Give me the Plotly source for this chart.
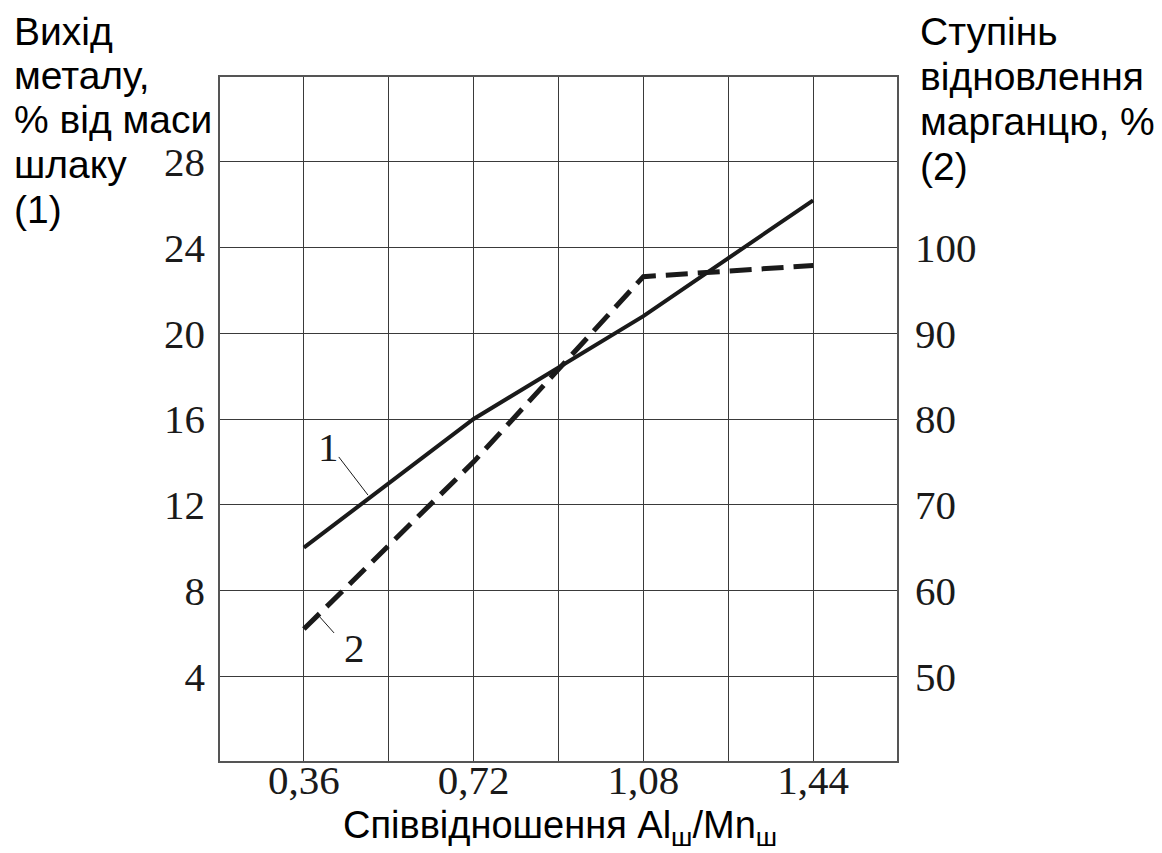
import plotly.graph_objects as go

# Data
x_ratio = [0.36, 0.72, 1.08, 1.44]
metal_yield = [10.0, 16.0, 20.8, 26.2]          # curve 1, left axis (%)
mn_recovery = [55.5, 75.0, 96.6, 97.9]          # curve 2, right axis (%)

x_ticks = [0.36, 0.72, 1.08, 1.44]
x_ticklabels = ["0,36", "0,72", "1,08", "1,44"]
x_minor_grid = [0.54, 0.90, 1.26]
y_left_ticks = [4, 8, 12, 16, 20, 24, 28]
y_right_ticks = [50, 60, 70, 80, 90, 100]

left_title = ["Вихід", "металу,", "% від маси", "шлаку", "(1)"]
right_title = ["Ступінь", "відновлення", "марганцю, %", "(2)"]
x_title = "Співвідношення Al<sub>ш</sub>/Mn<sub>ш</sub>"

INK = "#1a1a1a"
SERIF = "Liberation Serif"
SANS = "Liberation Sans"
GRID = "#3a3a3a"
PLOT_H = 686

fig = go.Figure()
fig.add_trace(go.Scatter(x=x_ratio, y=metal_yield, mode="lines",
                         line=dict(color=INK, width=4), yaxis="y", showlegend=False))
fig.add_trace(go.Scatter(x=x_ratio, y=mn_recovery, mode="lines",
                         line=dict(color=INK, width=5, dash="22px,10px"), yaxis="y2",
                         showlegend=False))

fig.update_layout(
    width=1162, height=853,
    margin=dict(l=219, r=264, t=76, b=91),
    paper_bgcolor="white", plot_bgcolor="white",
    xaxis=dict(range=[0.18, 1.62], tickvals=x_ticks, ticktext=x_ticklabels,
               anchor="free", position=10 / PLOT_H,
               showgrid=True, gridcolor=GRID, gridwidth=1,
               minor=dict(tickvals=x_minor_grid, showgrid=True, gridcolor=GRID, gridwidth=1),
               showline=False, ticks="", zeroline=False,
               tickfont=dict(family=SERIF, size=41, color=INK)),
    yaxis=dict(range=[0, 32], tickvals=y_left_ticks,
               ticktext=[str(v) for v in y_left_ticks],
               showgrid=True, gridcolor=GRID, gridwidth=1,
               showline=False, ticks="", zeroline=False, ticklabelstandoff=13,
               tickfont=dict(family=SERIF, size=41, color=INK)),
    yaxis2=dict(range=[40, 120], overlaying="y", side="right",
                tickvals=y_right_ticks, ticktext=[str(v) for v in y_right_ticks],
                showgrid=False, zeroline=False, showline=False, ticks="",
                ticklabelstandoff=16,
                tickfont=dict(family=SERIF, size=41, color=INK)),
)

# plot frame
fig.add_shape(type="rect", xref="paper", yref="paper", x0=0, y0=0, x1=1, y1=1,
              line=dict(color="#555", width=2), layer="above")

anns = []
for i, t in enumerate(left_title):
    anns.append(dict(text=t, xref="paper", yref="paper", x=-219/679 + 12/679,
                     y=1 + (76 - (31 + i * 44.5)) / PLOT_H, xanchor="left", yanchor="middle",
                     showarrow=False, font=dict(family=SANS, size=39, color="black")))
for i, t in enumerate(right_title):
    anns.append(dict(text=t, xref="paper", yref="paper", x=(918 - 219) / 679,
                     y=1 + (76 - (31 + i * 45)) / PLOT_H, xanchor="left", yanchor="middle",
                     showarrow=False, font=dict(family=SANS, size=39, color="black")))
anns.append(dict(text=x_title, xref="paper", yref="paper", x=(560 - 219) / 679,
                 y=1 + (76 - 828) / PLOT_H, xanchor="center", yanchor="middle",
                 showarrow=False, font=dict(family=SANS, size=38, color="black")))
# curve labels
anns.append(dict(text="1", x=0.413, y=14.7, xref="x", yref="y", showarrow=False,
                 font=dict(family=SERIF, size=41, color=INK)))
anns.append(dict(text="2", x=0.468, y=5.3, xref="x", yref="y", showarrow=False,
                 font=dict(family=SERIF, size=41, color=INK)))
fig.update_layout(annotations=anns)

fig.add_shape(type="line", xref="x", yref="y", x0=0.434, y0=14.23, x1=0.496, y1=12.45,
              line=dict(color=INK, width=1))
fig.add_shape(type="line", xref="x", yref="y", x0=0.394, y0=6.76, x1=0.424, y1=6.02,
              line=dict(color=INK, width=1))

fig.write_html("out.html")
